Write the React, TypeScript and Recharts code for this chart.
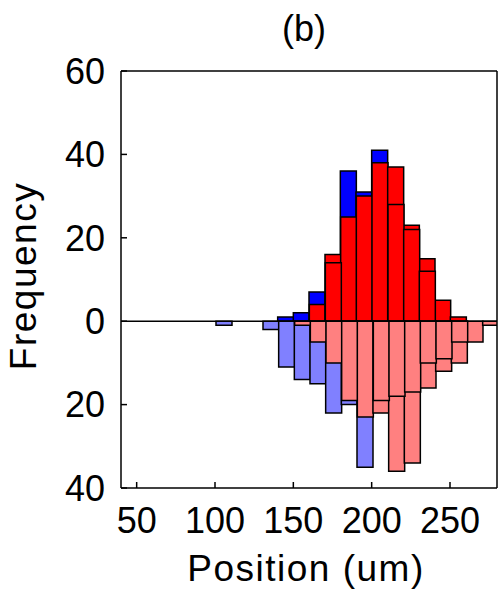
import { Bar, BarChart, ReferenceLine, XAxis, YAxis } from "recharts";

// histogram bins, 10 um wide, given by their centres
const binCenters = [45, 55, 65, 75, 85, 95, 105, 115, 125, 135, 145, 155, 165, 175, 185, 195, 205, 215, 225, 235, 245, 255, 265, 275];

// upper half (dark colours)
const blueAbove = [0, 0, 0, 0, 0, 0, 0, 0, 0, 0, 1, 2, 7, 0, 36, 31, 41, 0, 0, 0, 0, 0, 0, 0];
const redAbove = [0, 0, 0, 0, 0, 0, 0, 0, 0, 0, 0, 0, 4, 16, 25, 30, 38, 37, 23, 15, 5, 1, 0, 0];
const redAboveCore = [0, 0, 0, 0, 0, 0, 0, 0, 0, 0, 0, 0, 0, 14, 0, 0, 0, 28, 22, 12, 0, 0, 0, 0];

// lower half (light colours), counted downwards
const blueBelow = [0, 0, 0, 0, 0, 0, 1, 0, 0, 2, 11, 14, 15, 22, 20, 35, 0, 0, 0, 0, 0, 0, 0, 0];
const redBelow = [0, 0, 0, 0, 0, 0, 0, 0, 0, 0, 0, 1, 5, 10, 19, 23, 22, 36, 34, 16, 12, 10, 5, 1];
const redBelowCore = [0, 0, 0, 0, 0, 0, 0, 0, 0, 0, 0, 0, 0, 0, 0, 0, 19, 18, 17, 10, 9, 5, 0, 0];

const xTicks = [50, 100, 150, 200, 250];
const yTicks = [-40, -20, 0, 20, 40, 60];

const data = binCenters.map((x, i) => ({
  x,
  blueAbove: blueAbove[i],
  redAbove: redAbove[i],
  redAboveCore: redAboveCore[i],
  blueBelow: -blueBelow[i],
  redBelow: -redBelow[i],
  redBelowCore: -redBelowCore[i],
}));

const font = "'Liberation Sans', Arial, Helvetica, sans-serif";
const tickStyle = { fill: "#000", fontSize: 36, fontFamily: font };
const edge = { stroke: "#000", strokeWidth: 1.5 };

export default function App() {
  return (
    <div style={{ position: "absolute", left: 0, top: 0, width: 500, height: 591, background: "#fff", fontFamily: font }}>
      <BarChart
        width={500}
        height={591}
        data={data}
        margin={{ top: 70, right: 2, bottom: 0, left: 0 }}
        barCategoryGap={0}
        barGap="-100%"
      >
        <XAxis
          dataKey="x"
          type="number"
          domain={[40, 280]}
          ticks={xTicks}
          allowDataOverflow
          height={103}
          tickSize={-6}
          tickMargin={25}
          tick={tickStyle}
          axisLine={edge}
          tickLine={edge}
          label={{
            content: (p: any) => (
              <text x={p.viewBox.x + p.viewBox.width / 2 - 3} y={581} textAnchor="middle" fontSize={37} letterSpacing={1.5} fontFamily={font} fill="#000">
                Position (um)
              </text>
            ),
          }}
        />
        <XAxis
          xAxisId="top"
          orientation="top"
          dataKey="x"
          type="number"
          domain={[40, 280]}
          ticks={xTicks}
          allowDataOverflow
          height={1}
          tickSize={-6}
          tick={false}
          axisLine={edge}
          tickLine={edge}
          label={{
            content: (p: any) => (
              <text x={p.viewBox.x + p.viewBox.width / 2 - 5} y={41} textAnchor="middle" fontSize={36} fontFamily={font} fill="#000">
                (b)
              </text>
            ),
          }}
        />
        <YAxis
          type="number"
          domain={[-40, 60]}
          ticks={yTicks}
          allowDataOverflow
          width={121}
          tickSize={-6}
          tickMargin={22}
          tick={tickStyle}
          tickFormatter={(v: number) => String(Math.abs(v))}
          axisLine={edge}
          tickLine={edge}
          label={{
            content: () => (
              <text x={36} y={276} transform="rotate(-90, 36, 276)" textAnchor="middle" fontSize={37} letterSpacing={1.5} fontFamily={font} fill="#000">
                Frequency
              </text>
            ),
          }}
        />
        <YAxis
          yAxisId="right"
          orientation="right"
          type="number"
          domain={[-40, 60]}
          ticks={yTicks}
          allowDataOverflow
          width={1}
          tickSize={-6}
          tick={false}
          axisLine={edge}
          tickLine={edge}
        />
        <Bar dataKey="blueAbove" fill="#0000ff" {...edge} isAnimationActive={false} />
        <Bar dataKey="redAbove" fill="#ff0000" {...edge} isAnimationActive={false} />
        <Bar dataKey="redAboveCore" fill="#ff0000" {...edge} isAnimationActive={false} />
        <Bar dataKey="blueBelow" fill="#8080ff" {...edge} isAnimationActive={false} />
        <Bar dataKey="redBelow" fill="#ff8080" {...edge} isAnimationActive={false} />
        <Bar dataKey="redBelowCore" fill="#ff8080" {...edge} isAnimationActive={false} />
        <ReferenceLine y={0} stroke="#000" strokeWidth={1.5} />
      </BarChart>
    </div>
  );
}
